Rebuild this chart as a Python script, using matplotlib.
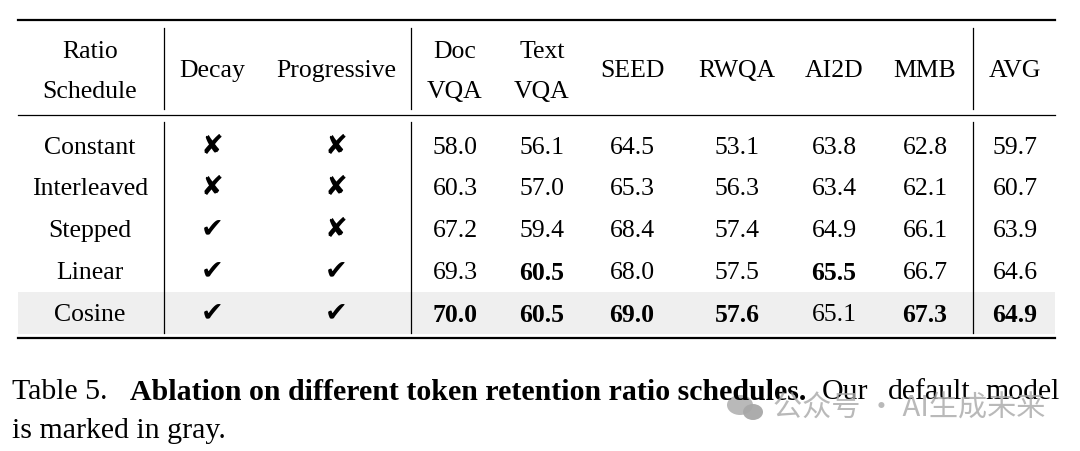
import matplotlib
matplotlib.use("Agg")
import matplotlib.pyplot as plt
from matplotlib.patches import Ellipse

serif = ['Liberation Serif', 'DejaVu Sans']

# table data
schedules = ["Constant", "Interleaved", "Stepped", "Linear", "Cosine"]
decay = [False, False, True, True, True]
progressive = [False, False, False, True, True]
bench_top = ["Doc", "Text", "", "", "", "", ""]
bench_bottom = ["VQA", "VQA", "", "", "", "", ""]
bench_single = ["", "", "SEED", "RWQA", "AI2D", "MMB", "AVG"]
scores = [
    [58.0, 56.1, 64.5, 53.1, 63.8, 62.8, 59.7],
    [60.3, 57.0, 65.3, 56.3, 63.4, 62.1, 60.7],
    [67.2, 59.4, 68.4, 57.4, 64.9, 66.1, 63.9],
    [69.3, 60.5, 68.0, 57.5, 65.5, 66.7, 64.6],
    [70.0, 60.5, 69.0, 57.6, 65.1, 67.3, 64.9],
]
bold = [
    [0, 0, 0, 0, 0, 0, 0],
    [0, 0, 0, 0, 0, 0, 0],
    [0, 0, 0, 0, 0, 0, 0],
    [0, 1, 0, 0, 1, 0, 0],
    [1, 1, 1, 1, 0, 1, 1],
]

# layout (pixel coordinates)
W, H = 1080, 451
col_x = [90, 212, 336, 455, 542, 632, 737, 834, 925, 1015]
row_y = [148, 189, 231, 273, 315]
fs = 18.5

fig = plt.figure(figsize=(W / 100, H / 100), dpi=100)
ax = fig.add_axes([0, 0, 1, 1])
ax.set_xlim(0, W)
ax.set_ylim(H, 0)
ax.axis('off')

# gray band for default model
ax.axhspan(292, 334, xmin=18 / W, xmax=1055 / W, color='#efefef', lw=0)

# rules
ax.plot([18, 1055], [20, 20], color='black', lw=1.6)
ax.plot([18, 1055], [115, 115], color='black', lw=0.9)
ax.plot([18, 1055], [338, 338], color='black', lw=1.6)
for vx in [164, 411, 973]:
    ax.plot([vx, vx], [28, 109], color='black', lw=0.9)
    ax.plot([vx, vx], [122, 333], color='black', lw=0.9)

# header
ax.text(col_x[0], 52, "Ratio", ha='center', va='center', fontsize=fs, family=serif)
ax.text(col_x[0], 92, "Schedule", ha='center', va='center', fontsize=fs, family=serif)
ax.text(col_x[1], 71, "Decay", ha='center', va='center', fontsize=fs, family=serif)
ax.text(col_x[2], 71, "Progressive", ha='center', va='center', fontsize=fs, family=serif)
for j in range(len(bench_single)):
    cx = col_x[3 + j]
    ax.text(cx, 52, bench_top[j], ha='center', va='center', fontsize=fs, family=serif)
    ax.text(cx, 92, bench_bottom[j], ha='center', va='center', fontsize=fs, family=serif)
    ax.text(cx, 71, bench_single[j], ha='center', va='center', fontsize=fs, family=serif)

# body
for i, name in enumerate(schedules):
    y = row_y[i]
    ax.text(col_x[0], y, name, ha='center', va='center', fontsize=fs, family=serif)
    for k, flag in enumerate([decay[i], progressive[i]]):
        ax.text(col_x[1 + k], y - 1, "\u2714" if flag else "\u2718", ha='center',
                va='center', fontsize=fs + 1, family=['DejaVu Sans'])
    for j, v in enumerate(scores[i]):
        ax.text(col_x[3 + j], y, f"{v:.1f}", ha='center', va='center', fontsize=fs,
                family=serif, fontweight='bold' if bold[i][j] else 'normal')

# caption (justified first line)
cap_fs = 21.5
ax.text(12, 392, "Table 5.", ha='left', va='center', fontsize=cap_fs, family=serif)
ax.text(130, 392, "Ablation on different token retention ratio schedules.", ha='left',
        va='center', fontsize=cap_fs, family=serif, fontweight='bold')
ax.text(822, 392, "Our", ha='left', va='center', fontsize=cap_fs, family=serif)
ax.text(929, 392, "default", ha='center', va='center', fontsize=cap_fs, family=serif)
ax.text(1060, 392, "model", ha='right', va='center', fontsize=cap_fs, family=serif)
ax.text(12, 431, "is marked in gray.", ha='left', va='center', fontsize=cap_fs,
        family=serif)

# watermark
wm = '#a8a8a8'
ax.add_patch(Ellipse((740, 405), 26, 20, color=wm, alpha=0.8, lw=0))
ax.add_patch(Ellipse((753, 412), 20, 16, color=wm, alpha=0.95, lw=0))
ax.text(1045, 409, "公众号 · AI生成未来", ha='right', va='center', fontsize=21,
        family=['Noto Sans CJK SC', 'DejaVu Sans'], color=wm, alpha=0.8)

fig.savefig("out.png", dpi=100)
